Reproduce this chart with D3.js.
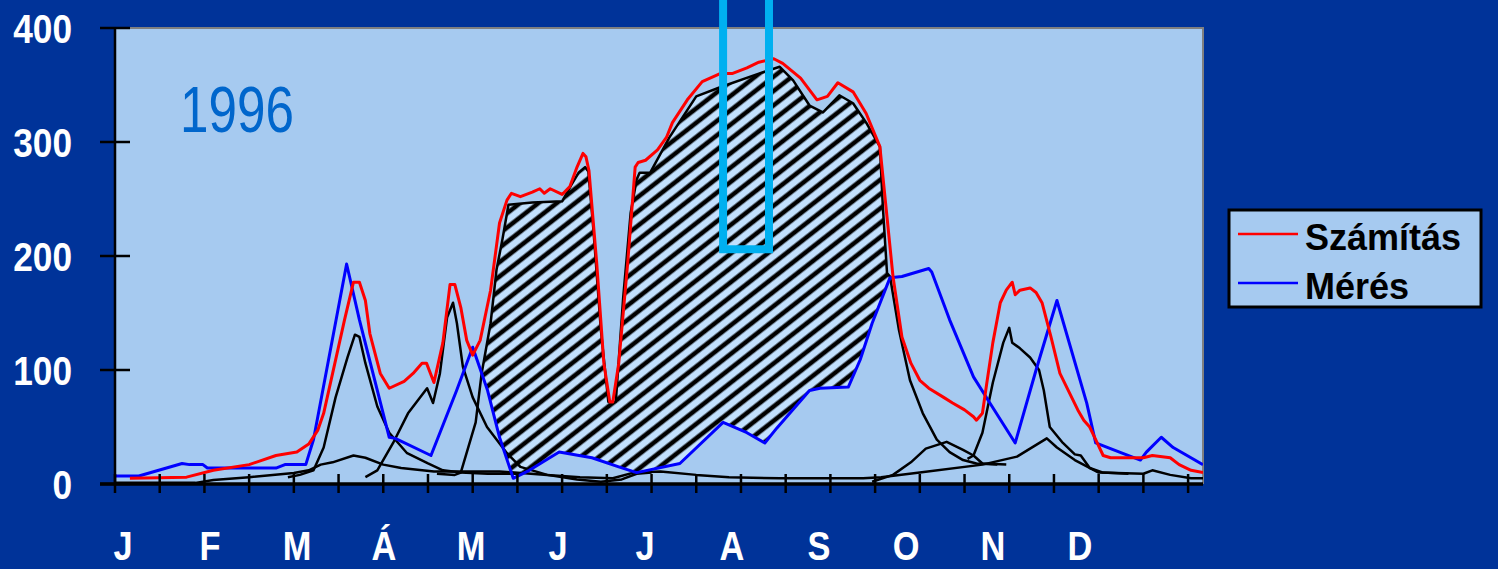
<!DOCTYPE html>
<html>
<head>
<meta charset="utf-8">
<script src="https://cdn.jsdelivr.net/npm/d3@7/dist/d3.min.js"></script>
<style>
  body { margin: 0; background: #003399; }
  svg { display: block; }
</style>
</head>
<body>
<svg id="chart" width="1498" height="569"></svg>
<script>
// --- data (x = day of year, y = value) ---
const months = ['J', 'F', 'M', 'Á', 'M', 'J', 'J', 'A', 'S', 'O', 'N', 'D'];
const yTicks = [0, 100, 200, 300, 400];
const dayTicks = d3.range(0, 361, 15);
const yearLabel = '1996';
const legendNames = ['Számítás', 'Mérés'];

const szamitas = [
  [5, 5], [24, 6], [33, 12], [45, 17], [54, 25], [61, 28], [65, 35], [68, 47], [70, 62], [73, 97],
  [77, 144], [80, 177], [82, 177], [84, 161], [85.5, 132], [89, 97], [92, 84], [97, 90], [100, 97],
  [103, 106], [104.5, 106], [107, 89], [110, 124], [112.4, 175], [114, 175], [116, 155], [118, 126],
  [120, 113], [122.5, 126], [126, 170], [129, 229], [131.5, 249], [133, 255], [136, 252], [140, 256],
  [142.5, 259], [144, 255], [146, 259], [150, 254], [152.6, 261], [155, 278], [157, 290], [158, 287],
  [159, 275], [161.6, 194], [164, 106], [166, 72], [167, 72], [169, 106], [172, 194], [174.5, 278],
  [175.5, 282], [178, 284], [182, 293], [185, 304], [187, 317], [192, 337], [197, 353], [203, 360],
  [207, 360], [212, 365], [216, 370], [221, 373], [224, 369], [230, 356], [235.5, 337], [239, 340],
  [242.5, 352], [247.6, 344], [252, 325], [256.6, 296], [259, 234], [261, 182], [264, 129], [267, 106],
  [270, 91], [273, 84], [278, 76], [281, 71], [285, 65], [288, 59], [289, 56], [291, 62], [292.5, 89],
  [294.5, 124], [297, 159], [299, 170], [301, 177], [302, 166], [303.6, 170], [307, 172], [309, 168],
  [311, 159], [314, 129], [317, 97], [323, 65], [325, 56], [327, 50], [329, 39], [331.5, 25], [334, 23],
  [345, 23], [348, 25], [354, 23], [357, 17], [361, 12], [365, 10]
];

const meres = [
  [0, 7], [8, 7], [22.5, 18], [25, 17], [29.5, 17], [31, 14], [54, 14], [57, 17], [64, 17], [66.6, 39],
  [77.7, 193], [82, 144], [92, 41], [94, 40], [106, 25], [114.6, 82], [120, 120], [125, 82], [129, 41],
  [133.6, 5], [139, 12], [149, 28], [160, 23], [169, 15], [175, 10], [189.5, 18], [204, 54], [212, 45],
  [218, 36], [222, 49], [233, 82], [236.5, 84], [246, 85], [250, 109], [254, 141], [260, 181], [264, 182],
  [273, 189], [274, 186], [280, 144], [288, 94], [293.5, 71], [302, 36], [309, 100], [316, 161],
  [326, 71], [329, 36], [337, 28], [344, 21], [346, 28], [351, 41], [355, 32], [365, 17]
];

// component curves (black)
const alap = [
  [0, 1], [27, 1], [33, 3.5], [45, 6], [60, 9.6], [65, 12], [69, 17], [73, 19], [80, 25], [84, 23],
  [90, 17], [96, 14], [107, 11], [129, 11], [145, 8], [156, 6], [167, 5], [174, 10], [183, 11], [195, 8],
  [206, 6], [223, 5], [251, 5], [257, 6], [270, 10], [291, 17], [302.6, 24], [312.6, 40], [316, 32],
  [322, 21], [330, 10], [345, 9], [348, 12], [354, 8], [361, 5], [365, 5]
];
const tavasz = [
  [58, 6], [62, 8], [66.6, 12], [70, 32], [74, 76], [78, 111], [80.5, 131], [82, 129], [84, 106], [88, 68],
  [92, 45], [98, 27], [105, 18], [110, 12], [116, 10], [125, 9], [135, 9]
];
const aprilis = [
  [84, 6], [88, 12], [93.3, 36], [98.3, 62], [104.7, 84], [106.7, 71], [109, 97], [111.4, 146], [113.4, 159],
  [114.7, 141], [116.7, 103], [120, 76], [124.8, 50], [131.5, 27], [136, 15], [145, 8], [155, 4],
  [163, 2], [170, 4], [175, 9], [180, 10]
];
const nyar = [
  [108, 9], [114, 8], [116, 10], [121, 54], [123, 97], [126, 141], [128, 188], [130, 215], [132, 245], [140, 247],
  [150, 248], [153, 262], [155.5, 273], [157.7, 278], [158.8, 274], [160.5, 223], [163, 135],
  [165.5, 72], [168, 72], [170.5, 164], [173, 238], [175, 267], [176, 273], [179.5, 273], [186, 304],
  [195, 340], [203, 348], [216, 360], [223, 366], [227.5, 354], [233, 332], [237.5, 326], [243, 341],
  [247.6, 334], [252, 317], [256.6, 296], [257.6, 243], [259, 185], [260, 182], [263, 135],
  [266.7, 91], [271, 62], [275.7, 39], [280, 28], [284.5, 21], [289, 18], [296, 17]
];
const oktober = [
  [254, 2], [261, 8], [267, 19], [272, 31], [279, 37], [284.5, 30], [288, 25], [291, 18], [299, 17]
];
const november = [
  [286, 22], [288, 25], [291, 45], [294.5, 89], [298, 124], [300, 137], [301, 124], [303.6, 119],
  [307, 111], [310, 100], [311.6, 82], [313.6, 50], [318, 36], [322, 26], [324, 25], [327, 14],
  [331.5, 10], [340, 9]
];

// measurement window marked in the original
const ablakDays = [204, 219.4];
const ablakLevel = 206;

class HydroChart {
  constructor(selector) {
    this.svg = d3.select(selector);
    this.plot = { left: 115, right: 1203, top: 28, bottom: 484 };
    this.x = d3.scaleLinear().domain([0, 365]).range([this.plot.left, this.plot.right]);
    this.y = d3.scaleLinear().domain([0, 400]).range([this.plot.bottom, this.plot.top]);
    this.line = d3.line().x(d => this.x(d[0])).y(d => this.y(d[1]));
    this.labelFont = '"Liberation Sans", Arial, sans-serif';
  }

  draw() {
    this.drawDefs();
    this.drawFrame();
    this.drawHatch();
    this.drawSeries();
    this.drawAxes();
    this.drawWindow();
    this.drawLegend();
  }

  drawDefs() {
    const defs = this.svg.append('defs');
    const pat = defs.append('pattern')
      .attr('id', 'hatch')
      .attr('patternUnits', 'userSpaceOnUse')
      .attr('width', 11.3)
      .attr('height', 11.3)
      .attr('patternTransform', 'rotate(-38)');
    pat.append('rect').attr('width', 11.3).attr('height', 11.3).attr('fill', '#c2e0fd');
    pat.append('line')
      .attr('x1', 0).attr('x2', 11.3).attr('y1', 5.6).attr('y2', 5.6)
      .attr('stroke', '#000').attr('stroke-width', 4.6);

    defs.append('clipPath').attr('id', 'plot-clip')
      .append('rect')
      .attr('x', this.plot.left).attr('y', this.plot.top)
      .attr('width', this.plot.right - this.plot.left)
      .attr('height', this.plot.bottom - this.plot.top);

    // region above the measured curve
    const above = d3.area()
      .x(d => this.x(d[0]))
      .y0(this.y(420))
      .y1(d => this.y(d[1]));
    defs.append('clipPath').attr('id', 'above-meres')
      .append('path').attr('d', above(meres));
  }

  drawFrame() {
    const p = this.plot;
    this.svg.append('rect')
      .attr('x', p.left).attr('y', p.top)
      .attr('width', p.right - p.left).attr('height', p.bottom - p.top)
      .attr('fill', '#a6caf0');
    this.svg.append('path')
      .attr('d', `M${p.left},${p.top}H${p.right}V${p.bottom}`)
      .attr('fill', 'none').attr('stroke', '#808080').attr('stroke-width', 2);

    // narrow look: squeeze the regular face horizontally
    this.svg.append('text')
      .attr('transform', 'translate(180,132) scale(0.8,1)')
      .attr('font-family', this.labelFont)
      .attr('font-size', 64)
      .attr('fill', '#0066cc')
      .text(yearLabel);
  }

  drawHatch() {
    const under = d3.area()
      .x(d => this.x(d[0]))
      .y0(this.y(0))
      .y1(d => this.y(d[1]));
    this.svg.append('g').attr('clip-path', 'url(#plot-clip)')
      .append('path')
      .attr('d', under(nyar))
      .attr('fill', 'url(#hatch)')
      .attr('clip-path', 'url(#above-meres)');
  }

  drawSeries() {
    const g = this.svg.append('g').attr('clip-path', 'url(#plot-clip)');
    [alap, tavasz, aprilis, nyar, oktober, november].forEach(s => {
      g.append('path').attr('d', this.line(s))
        .attr('fill', 'none').attr('stroke', '#000').attr('stroke-width', 2.5)
        .attr('stroke-linejoin', 'round');
    });
    g.append('path').attr('d', this.line(meres))
      .attr('fill', 'none').attr('stroke', '#0000ff').attr('stroke-width', 3)
      .attr('stroke-linejoin', 'round');
    g.append('path').attr('d', this.line(szamitas))
      .attr('fill', 'none').attr('stroke', '#ff0000').attr('stroke-width', 3)
      .attr('stroke-linejoin', 'round');
  }

  drawAxes() {
    const p = this.plot;

    // y axis
    this.svg.append('line')
      .attr('x1', p.left).attr('x2', p.left).attr('y1', p.top).attr('y2', p.bottom)
      .attr('stroke', '#000').attr('stroke-width', 2.5);
    const yt = this.svg.append('g');
    yt.selectAll('line').data(yTicks).join('line')
      .attr('x1', p.left - 15).attr('x2', p.left + 15)
      .attr('y1', d => this.y(d)).attr('y2', d => this.y(d))
      .attr('stroke', '#000').attr('stroke-width', 2.5);
    yt.selectAll('text').data(yTicks).join('text')
      .attr('transform', d => `translate(72,${this.y(d) + 15}) scale(0.86,1)`)
      .attr('text-anchor', 'end')
      .attr('font-family', this.labelFont).attr('font-weight', 'bold').attr('font-size', 41)
      .attr('fill', '#fff')
      .text(d => d);

    // x axis
    this.svg.append('line')
      .attr('x1', p.left - 15).attr('x2', p.right).attr('y1', p.bottom).attr('y2', p.bottom)
      .attr('stroke', '#000').attr('stroke-width', 3.5);
    this.svg.append('g').selectAll('line').data(dayTicks).join('line')
      .attr('x1', d => this.x(d)).attr('x2', d => this.x(d))
      .attr('y1', p.bottom - 10).attr('y2', p.bottom + 9)
      .attr('stroke', '#000').attr('stroke-width', 2.5);

    const mx = d3.scalePoint().domain(d3.range(months.length)).range([123, 1080]);
    this.svg.append('g').selectAll('text').data(months).join('text')
      .attr('transform', (d, i) => `translate(${mx(i)},560) scale(0.86,1)`)
      .attr('text-anchor', 'middle')
      .attr('font-family', this.labelFont).attr('font-weight', 'bold').attr('font-size', 40)
      .attr('fill', '#fff')
      .text(d => d);
  }

  drawWindow() {
    const top = this.y(430);
    const [a, b] = ablakDays;
    this.svg.append('path')
      .attr('d', `M${this.x(a)},${top}V${this.y(ablakLevel)}H${this.x(b)}V${top}`)
      .attr('fill', 'none').attr('stroke', '#00b0f0').attr('stroke-width', 8);
  }

  drawLegend() {
    const g = this.svg.append('g');
    g.append('rect')
      .attr('x', 1229).attr('y', 210).attr('width', 252).attr('height', 97)
      .attr('fill', '#a6caf0').attr('stroke', '#000').attr('stroke-width', 3);
    const colors = ['#ff0000', '#0000ff'];
    legendNames.forEach((name, i) => {
      const yy = 234 + i * 49;
      g.append('line')
        .attr('x1', 1238).attr('x2', 1298).attr('y1', yy).attr('y2', yy)
        .attr('stroke', colors[i]).attr('stroke-width', 2.5);
      g.append('text')
        .attr('x', 1305).attr('y', yy + 16)
        .attr('font-family', this.labelFont)
        .attr('font-weight', 'bold').attr('font-size', 36)
        .attr('fill', '#000')
        .text(name);
    });
  }
}

new HydroChart('#chart').draw();
</script>
</body>
</html>
